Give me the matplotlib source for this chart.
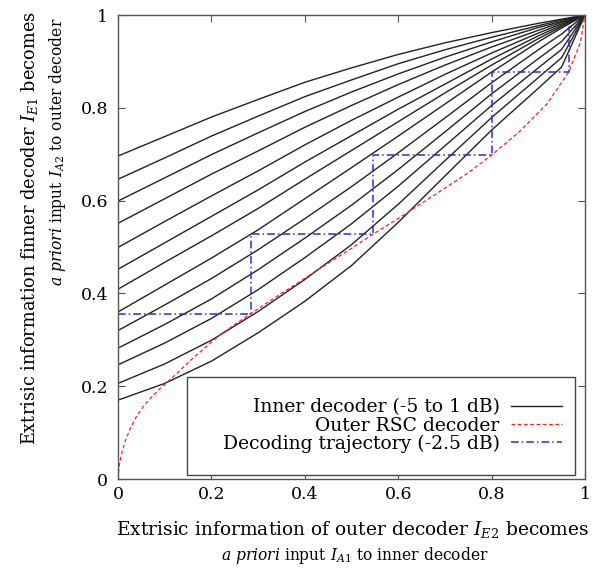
import matplotlib
matplotlib.use("Agg")
import matplotlib.pyplot as plt
from matplotlib.patches import Rectangle
from matplotlib.lines import Line2D

plt.rcParams["font.family"] = ["DejaVu Serif"]
plt.rcParams["mathtext.fontset"] = "dejavuserif"

# A-priori input grid for the inner decoder EXIT curves
ia_grid = [0.0, 0.1, 0.2, 0.3, 0.4, 0.5, 0.6, 0.7, 0.8, 0.9, 0.95, 1.0]

# Inner decoder EXIT curves, SNR -5 dB ... 1 dB in 0.5 dB steps
snr_db = [-5.0, -4.5, -4.0, -3.5, -3.0, -2.5, -2.0, -1.5, -1.0, -0.5, 0.0, 0.5, 1.0]
inner_m50 = [0.170, 0.206, 0.254, 0.315, 0.383, 0.460, 0.553, 0.653, 0.752, 0.842, 0.888, 1.0]
inner_m45 = [0.206, 0.248, 0.299, 0.361, 0.430, 0.505, 0.592, 0.686, 0.779, 0.865, 0.908, 1.0]
inner_m40 = [0.246, 0.293, 0.346, 0.408, 0.477, 0.550, 0.631, 0.718, 0.805, 0.886, 0.926, 1.0]
inner_m35 = [0.282, 0.333, 0.388, 0.451, 0.519, 0.590, 0.667, 0.748, 0.830, 0.906, 0.943, 1.0]
inner_m30 = [0.320, 0.375, 0.432, 0.494, 0.561, 0.630, 0.703, 0.778, 0.854, 0.925, 0.959, 1.0]
inner_m25 = [0.360, 0.418, 0.476, 0.537, 0.604, 0.671, 0.739, 0.808, 0.877, 0.942, 0.972, 1.0]
inner_m20 = [0.409, 0.467, 0.524, 0.583, 0.646, 0.708, 0.770, 0.832, 0.892, 0.949, 0.975, 1.0]
inner_m15 = [0.452, 0.509, 0.566, 0.623, 0.683, 0.740, 0.797, 0.851, 0.905, 0.955, 0.978, 1.0]
inner_m10 = [0.499, 0.555, 0.610, 0.664, 0.720, 0.773, 0.823, 0.872, 0.918, 0.961, 0.981, 1.0]
inner_m05 = [0.551, 0.604, 0.657, 0.707, 0.758, 0.805, 0.850, 0.892, 0.931, 0.967, 0.984, 1.0]
inner_p00 = [0.599, 0.649, 0.699, 0.746, 0.792, 0.834, 0.873, 0.909, 0.942, 0.973, 0.986, 1.0]
inner_p05 = [0.646, 0.692, 0.739, 0.782, 0.824, 0.860, 0.895, 0.925, 0.952, 0.977, 0.989, 1.0]
inner_p10 = [0.696, 0.738, 0.780, 0.818, 0.855, 0.886, 0.915, 0.940, 0.962, 0.982, 0.991, 1.0]
inner_curves = [inner_m50, inner_m45, inner_m40, inner_m35, inner_m30, inner_m25,
                inner_m20, inner_m15, inner_m10, inner_m05, inner_p00, inner_p05,
                inner_p10]

# Outer RSC decoder EXIT curve (axes swapped: I_E2 on x, I_A2 on y)
outer_x = [0.0, 0.002, 0.007, 0.015, 0.025, 0.038, 0.054, 0.072, 0.09, 0.12, 0.16,
           0.22, 0.285, 0.35, 0.43, 0.50, 0.545, 0.59, 0.65, 0.711, 0.754, 0.80,
           0.861, 0.92, 0.965, 0.99, 1.0]
outer_y = [0.0, 0.025, 0.052, 0.08, 0.106, 0.132, 0.156, 0.177, 0.195, 0.222, 0.26,
           0.312, 0.357, 0.40, 0.452, 0.497, 0.527, 0.555, 0.594, 0.634, 0.663, 0.698,
           0.75, 0.81, 0.877, 0.94, 1.0]

# Decoding trajectory at -2.5 dB
traj_x = [0.0, 0.285, 0.285, 0.545, 0.545, 0.80, 0.80, 0.965, 0.965, 0.99]
traj_y = [0.355, 0.355, 0.527, 0.527, 0.698, 0.698, 0.877, 0.877, 0.975, 0.975]

ticks = [0, 0.2, 0.4, 0.6, 0.8, 1]
tick_labels = ["0", "0.2", "0.4", "0.6", "0.8", "1"]

W, H = 600, 571
fig = plt.figure(figsize=(W / 100, H / 100), dpi=100)
ax = fig.add_axes([118 / W, 1 - 479 / H, (585 - 118) / W, (479 - 15) / H])

for curve in inner_curves:
    ax.plot(ia_grid, curve, color="#222222", lw=1.0, solid_joinstyle="round")
ax.plot(outer_x, outer_y, color="#ff2020", lw=0.9, dashes=(3, 2))
ax.plot(traj_x, traj_y, color="#2a2ae0", lw=1.1, dashes=(5, 2, 1, 2))

ax.set_xlim(0, 1)
ax.set_ylim(0, 1)
ax.set_xticks(ticks)
ax.set_xticklabels(tick_labels)
ax.set_yticks(ticks)
ax.set_yticklabels(tick_labels)
ax.tick_params(direction="in", top=True, right=True, length=5, width=0.8,
               color="#555555", labelsize=12.5)
ax.tick_params(axis="x", pad=5)
ax.tick_params(axis="y", pad=7)
for sp in ax.spines.values():
    sp.set_color("#555555")
    sp.set_linewidth(1.0)

# Legend box and entries (labels right-aligned, line samples on the right)
ax.add_patch(Rectangle((0.147, 0.009), 0.832, 0.211, transform=ax.transAxes,
                       facecolor="white", edgecolor="#444444", lw=1.0, zorder=4))
handles = [Line2D([], [], color="#222222", lw=1.0),
           Line2D([], [], color="#ff2020", lw=0.9, dashes=(3, 2)),
           Line2D([], [], color="#2a2ae0", lw=1.1, dashes=(5, 2, 1, 2))]
labels = ["Inner decoder (-5 to 1 dB)", "Outer RSC decoder",
          "Decoding trajectory (-2.5 dB)"]
leg = ax.legend(handles, labels, loc="center right",
                bbox_to_anchor=(0.97, 0.115), markerfirst=False, frameon=False,
                fontsize=13.5, handlelength=2.7, handletextpad=0.6,
                labelspacing=0.0, borderpad=0)
leg.set_zorder(5)

# Axis titles
fig.text(353 / W, 1 - 529 / H,
         r"Extrisic information of outer decoder $I_{E2}$ becomes",
         ha="center", va="center", fontsize=13.4)
fig.text(355 / W, 1 - 555 / H,
         r"$a\ priori$ input $I_{A1}$ to inner decoder",
         ha="center", va="center", fontsize=11.2)
fig.text(30 / W, 1 - 228 / H,
         r"Extrisic information finner decoder $I_{E1}$ becomes",
         ha="center", va="center", rotation=90, fontsize=12.8)
fig.text(58 / W, 1 - 152 / H,
         r"$a\ priori$ input $I_{A2}$ to outer decoder",
         ha="center", va="center", rotation=90, fontsize=11.2)

fig.savefig("out.png", dpi=100, facecolor="white")
